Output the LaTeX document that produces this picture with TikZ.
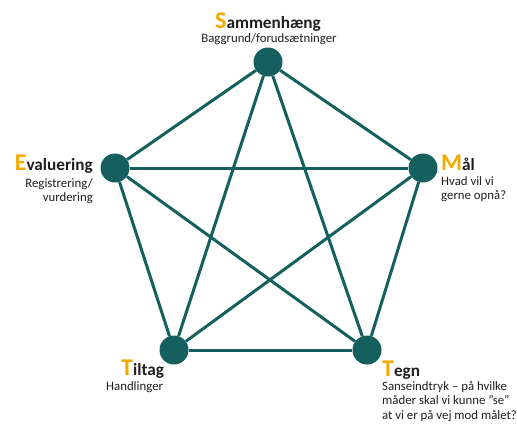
\documentclass[tikz,border=0pt]{standalone}
\usepackage{fontspec}
\setmainfont{Carlito}
\definecolor{petrol}{HTML}{15605F}
\definecolor{gul}{HTML}{F2A900}
\definecolor{tekst}{HTML}{1E1E1E}
\tikzset{
  punkt/.style={circle,fill=petrol,minimum size=29pt,inner sep=0pt},
  titel/.style={inner sep=0pt,text=tekst,font=\fontsize{17.2}{17}\selectfont\bfseries},
  under/.style={inner sep=0pt,text=tekst,font=\fontsize{12.8}{14.5}\selectfont},
}
\newcommand{\forbogstav}[1]{{\fontsize{24}{24}\selectfont\color{gul}#1}}
\begin{document}
\begin{tikzpicture}[x=1pt,y=-1pt]
  \useasboundingbox (0,0) rectangle (517,426);
  \draw
    (268,62) node[punkt] (s){}
    (423,168) node[punkt] (m){}
    (367,350) node[punkt] (tg){}
    (174,350) node[punkt] (tl){}
    (115,168) node[punkt] (e){};
  \begin{scope}[petrol,line width=3pt]
    \draw (s) to (m);
    \draw (m) to (tg);
    \draw (tg) to (tl);
    \draw (tl) to (e);
    \draw (e) to (s);
    \draw (s) to (tg);
    \draw (s) to (tl);
    \draw (e) to (m);
    \draw (e) to (tg);
    \draw (m) to (tl);
  \end{scope}
  % tekster
  \node[titel,anchor=base] (st) at (268,28) {\forbogstav{S}ammenhæng};
  \node[under,anchor=base] (su) at (269,42) {Baggrund/forudsætninger};
  \node[titel,anchor=base east] (et) at (93,170) {\forbogstav{E}valuering};
  \node[under,anchor=north east,align=right] (eu) at (93,178) {Registrering/\\vurdering};
  \node[titel,anchor=base west] (mt) at (441,170) {\forbogstav{M}ål};
  \node[under,anchor=north west,align=left] (mu) at (441,176) {Hvad vil vi\\gerne opnå?};
  \node[titel,anchor=base west] (tlt) at (121,375) {\forbogstav{T}iltag};
  \node[under,anchor=base west] (tlu) at (106,390) {Handlinger};
  \node[titel,anchor=base west] (tgt) at (382,376) {\forbogstav{T}egn};
  \node[under,anchor=north west,align=left] (tgu) at (382,381) {Sanseindtryk -- på hvilke\\måder skal vi kunne ”se”\\at vi er på vej mod målet?};
\end{tikzpicture}
\end{document}
